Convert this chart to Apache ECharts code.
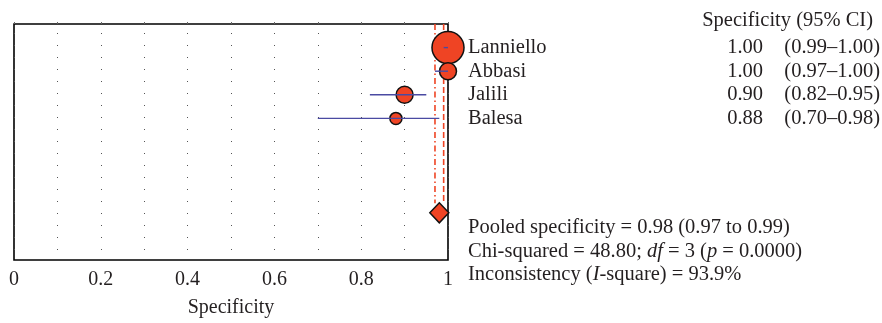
<!DOCTYPE html>
<html>
<head>
<meta charset="utf-8">
<script src="https://cdn.jsdelivr.net/npm/echarts@6/dist/echarts.min.js"></script>
<style>
  html, body { margin: 0; padding: 0; background: #fff; }
  #chart { width: 882px; height: 323px; }
</style>
</head>
<body>
<div id="chart"></div>
<script>
// Studies in the forest plot (top to bottom)
const studies = ['Lanniello', 'Abbasi', 'Jalili', 'Balesa'];
const specificity = [1.00, 1.00, 0.90, 0.88];
const ciLow = [0.99, 0.97, 0.82, 0.70];
const ciHigh = [1.00, 1.00, 0.95, 0.98];
const studyWeights = [58.7, 16.5, 16.5, 8.3]; // relative weight (%)

// Pooled estimate
const pooled = 0.98;
const pooledLow = 0.97;
const pooledHigh = 0.99;

const xTicks = [0, 0.2, 0.4, 0.6, 0.8, 1];
const headerText = 'Specificity (95% CI)';
const axisTitle = 'Specificity';

const studyRows = [1, 2, 3, 4];
const pooledRow = 8;

const RED = '#ef4424';
const BLUE = '#4a4aa2';
const INK = '#231f20';
const FONT = '"Liberation Serif", "DejaVu Serif", serif';
const FS = 20.5;

const fmt = v => v.toFixed(2);

const chart = echarts.init(document.getElementById('chart'), null, { renderer: 'canvas' });

const option = {
  animation: false,
  backgroundColor: '#fff',
  grid: {
    left: 14, top: 24, width: 434, height: 238,
    show: true, borderColor: '#000', borderWidth: 1.6, backgroundColor: 'transparent'
  },
  xAxis: {
    type: 'value', min: 0, max: 1, interval: 0.1,
    axisLine: { show: false },
    axisTick: { show: true, inside: true, length: 2, lineStyle: { color: '#666', width: 1 } },
    axisLabel: {
      margin: 10, fontFamily: FONT, fontSize: 20, color: INK,
      formatter: v => {
        const r = Math.round(v * 10) / 10;
        return xTicks.some(t => Math.abs(t - r) < 1e-9) ? String(r) : '';
      }
    },
    splitLine: {
      show: true,
      lineStyle: { color: '#555', width: 1, type: [1, 11], dashOffset: 3 }
    },
    name: axisTitle, nameLocation: 'middle', nameGap: 38,
    nameTextStyle: { fontFamily: FONT, fontSize: 20, color: INK }
  },
  yAxis: {
    type: 'value', min: 0, max: 10, inverse: true,
    show: false
  },
  series: [
    {
      // pooled CI bounds as vertical red lines
      type: 'custom',
      z: 1,
      data: [[pooledLow, 0], [pooledHigh, 1]],
      renderItem: (params, api) => {
        const p1 = api.coord([api.value(0), 0]);
        const p2 = api.coord([api.value(0), 7.6]);
        const dash = api.value(1) === 0 ? [6, 3, 1.5, 3] : [6, 3];
        return {
          type: 'line',
          shape: { x1: p1[0], y1: p1[1], x2: p2[0], y2: p2[1] },
          style: { stroke: RED, lineWidth: 1.6, lineDash: dash }
        };
      }
    },
    {
      type: 'scatter',
      z: 3,
      symbol: 'circle',
      data: specificity.map((v, i) => [v, studyRows[i], studyWeights[i]]),
      symbolSize: d => Math.sqrt(d[2]) * 4.18,
      itemStyle: { color: RED, borderColor: '#111', borderWidth: 1.5, opacity: 1 }
    },
    {
      // study confidence intervals
      type: 'custom',
      z: 4,
      data: ciLow.map((lo, i) => [lo, ciHigh[i], studyRows[i]]),
      renderItem: (params, api) => {
        const a = api.coord([api.value(0), api.value(2)]);
        const b = api.coord([api.value(1), api.value(2)]);
        return {
          type: 'line',
          shape: { x1: a[0], y1: a[1], x2: b[0], y2: b[1] },
          style: { stroke: BLUE, lineWidth: 1.4 }
        };
      }
    },
    {
      type: 'scatter',
      z: 5,
      symbol: 'diamond',
      symbolSize: [19, 20],
      data: [[pooled, pooledRow]],
      itemStyle: { color: RED, borderColor: '#111', borderWidth: 1.5, opacity: 1 }
    }
  ]
};

chart.setOption(option);

// Text columns beside the plot
const rowY = r => chart.convertToPixel({ gridIndex: 0 }, [0, r])[1];
const txt = (x, y, text, align) => ({
  type: 'text', x, y,
  style: {
    text, fontFamily: FONT, fontSize: FS, fill: INK,
    align: align || 'left', verticalAlign: 'middle'
  }
});

const graphics = [];
graphics.push(txt(873, 21, headerText, 'right'));
studies.forEach((name, i) => {
  const y = rowY(studyRows[i]);
  graphics.push(txt(468, y, name, 'left'));
  graphics.push(txt(763, y, fmt(specificity[i]), 'right'));
  graphics.push(txt(880, y, '(' + fmt(ciLow[i]) + '\u2013' + fmt(ciHigh[i]) + ')', 'right'));
});

const statsLines = [
  'Pooled specificity = ' + fmt(pooled) + ' (' + fmt(pooledLow) + ' to ' + fmt(pooledHigh) + ')',
  'Chi-squared = 48.80; {i|df} = 3 ({i|p} = 0.0000)',
  'Inconsistency ({i|I}-square) = 93.9%'
];
const statsY = [228, 251.5, 275];
statsLines.forEach((s, k) => {
  graphics.push({
    type: 'text', x: 468, y: statsY[k],
    style: {
      text: s, fontFamily: FONT, fontSize: FS, fill: INK,
      align: 'left', verticalAlign: 'middle',
      rich: { i: { fontFamily: FONT, fontSize: FS, fontStyle: 'italic', fill: INK } }
    }
  });
});

chart.setOption({ graphic: graphics });
</script>
</body>
</html>
